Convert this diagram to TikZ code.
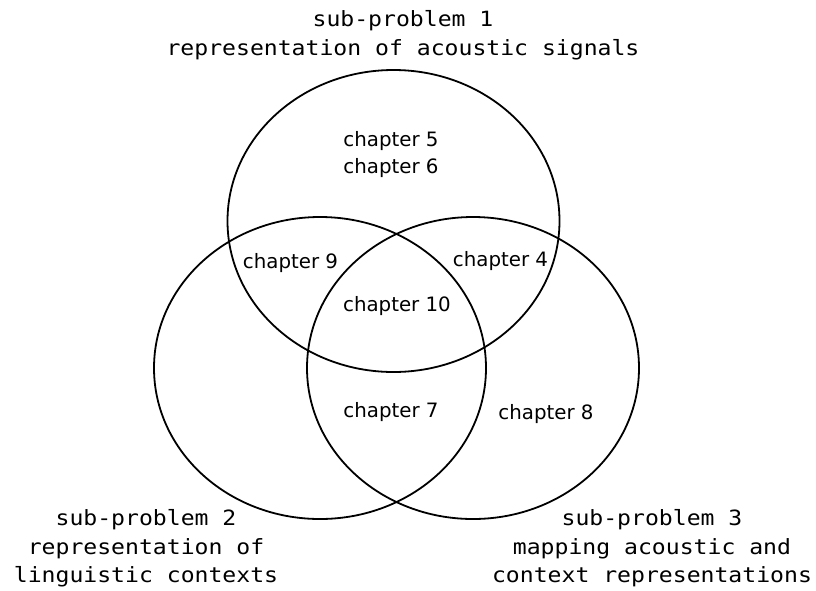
\documentclass[tikz,border=0pt]{standalone}
\usepackage{fontspec}
\newfontfamily\chapfont{DejaVu Sans}
\newfontfamily\probfont[FakeStretch=1.1]{DejaVu Sans Mono}
\begin{document}
\begin{tikzpicture}[x=1pt,y=-1pt,
  venn/.style={line width=1.8pt},
  chap/.style={font=\chapfont\fontsize{19.8}{26.5}\selectfont, inner sep=0pt, anchor=base, align=center},
  prob/.style={font=\probfont\fontsize{21}{28.3}\selectfont, inner sep=0pt, anchor=base, align=center}]
\useasboundingbox (0,0) rectangle (816,590);

% centres of the three sets
\coordinate (acoustic) at (393.5,221);
\coordinate (context)  at (320,368);
\coordinate (mapping)  at (473,368);

\draw[venn] (acoustic) ellipse [x radius=166, y radius=151];
\draw[venn] (context)  ellipse [x radius=166, y radius=151];
\draw[venn] (mapping)  ellipse [x radius=166, y radius=151];

% chapters in each region (base = last line)
\node[chap] (c56) at (391,173) {chapter 5\\chapter 6};
\node[chap] (c9)  at (290.5,268) {chapter 9};
\node[chap] (c4)  at (500.5,266) {chapter 4};
\node[chap] (c10) at (397,311) {chapter 10};
\node[chap] (c7)  at (391,417) {chapter 7};
\node[chap] (c8)  at (546,419) {chapter 8};

% sub-problem captions (base = last line)
\node[prob] (p1) at (403,55) {sub-problem 1\\representation of acoustic signals};
\node[prob] (p2) at (146,582.5) {sub-problem 2\\representation of\\linguistic contexts};
\node[prob] (p3) at (652,582.5) {sub-problem 3\\mapping acoustic and\\context representations};
\end{tikzpicture}
\end{document}
